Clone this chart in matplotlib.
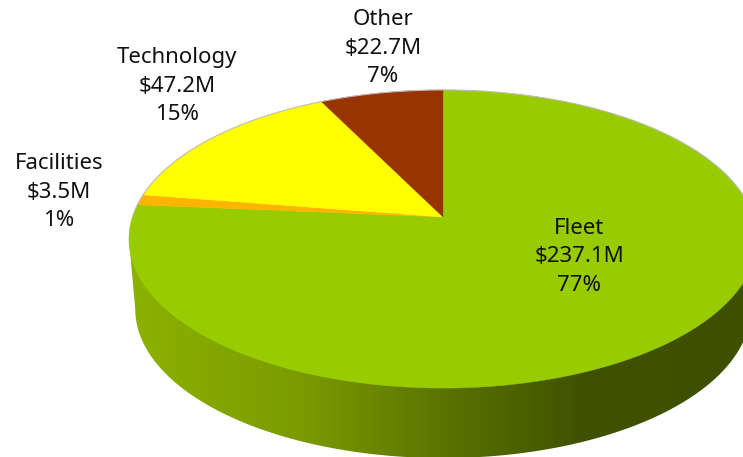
import numpy as np
import matplotlib
matplotlib.use('Agg')
import matplotlib.pyplot as plt
from matplotlib.colors import LinearSegmentedColormap
from matplotlib.patches import Polygon

# Dados do gráfico (sentido horário a partir do topo)
categorias = ['Fleet', 'Facilities', 'Technology', 'Other']
valores = [237.1, 3.5, 47.2, 22.7]
valores_txt = ['$237.1M', '$3.5M', '$47.2M', '$22.7M']
percentuais = ['77%', '1%', '15%', '7%']
cores = ['#99CC00', '#FFB400', '#FFFF00', '#993300']

# Posição dos rótulos, em pixels
rotulos_x = [579, 59, 177, 383]
rotulos_y = [257, 192, 86, 48]

# Geometria da pizza em perspectiva
apice_x, apice_y = 443, 217
escala_x, escala_y = 310.6, 145.8
k = 0.1477
altura = 70
encolhe = 0.98

fig = plt.figure(figsize=(7.43, 4.57), dpi=100)
ax = fig.add_axes([0, 0, 1, 1])
ax.set_xlim(0, 743)
ax.set_ylim(457, 0)
ax.axis('off')


# Projeta um ângulo do círculo (0 = topo, sentido horário) na tela
def projeta(ang):
    x = np.sin(ang)
    y = np.cos(ang)
    d = 1 + k * y
    return apice_x + escala_x * x / d, apice_y - escala_y * y / d


# Lateral com gradiente, recortada pelo contorno
centro_y = apice_y + escala_y * k / (1 - k ** 2)
a = escala_x / np.sqrt(1 - k ** 2)
b = escala_y / (1 - k ** 2)
t = np.linspace(np.pi, 0, 200)
base_x = apice_x + a * encolhe * np.cos(t)
base_y = centro_y + altura + b * np.sin(t)
contorno = list(zip(base_x, base_y))
contorno += [(apice_x + a, centro_y), (apice_x - a, centro_y)]
lateral = Polygon(contorno, closed=True, facecolor='none', edgecolor='none')
ax.add_patch(lateral)

cmap = LinearSegmentedColormap.from_list('lateral', [
    (0.00, '#8CB200'), (0.27, '#7A9C00'), (0.50, '#5A7400'),
    (0.72, '#405200'), (1.00, '#3E4F00')])
grad = ax.imshow(np.linspace(0, 1, 256).reshape(1, -1), cmap=cmap, aspect='auto',
                 extent=[apice_x - a, apice_x + a, 457, 0], zorder=1)
grad.set_clip_path(lateral)
ax.set_xlim(0, 743)
ax.set_ylim(457, 0)

# Fatias do topo
total = sum(valores)
inicio = 0
for valor, cor in zip(valores, cores):
    fim = inicio + valor / total * 2 * np.pi
    angs = np.linspace(inicio, fim, 300)
    px, py = projeta(angs)
    pontos = [(apice_x, apice_y)] + list(zip(px, py))
    ax.add_patch(Polygon(pontos, closed=True, facecolor=cor, edgecolor=cor,
                         linewidth=0.3, zorder=2))
    inicio = fim

# Contorno fino da parte de trás
px, py = projeta(np.linspace(-np.pi / 2, np.pi / 2, 300))
ax.plot(px, py, color='#BDBDBD', linewidth=0.8, zorder=3)

# Rótulos
for nome, v, p, x, y in zip(categorias, valores_txt, percentuais, rotulos_x, rotulos_y):
    ax.text(x, y, nome + '\n' + v + '\n' + p, ha='center', va='center',
            fontsize=16, family='Noto Sans', color='#111111', linespacing=1.47, zorder=4)

fig.savefig('out.png', dpi=100)
plt.close()
